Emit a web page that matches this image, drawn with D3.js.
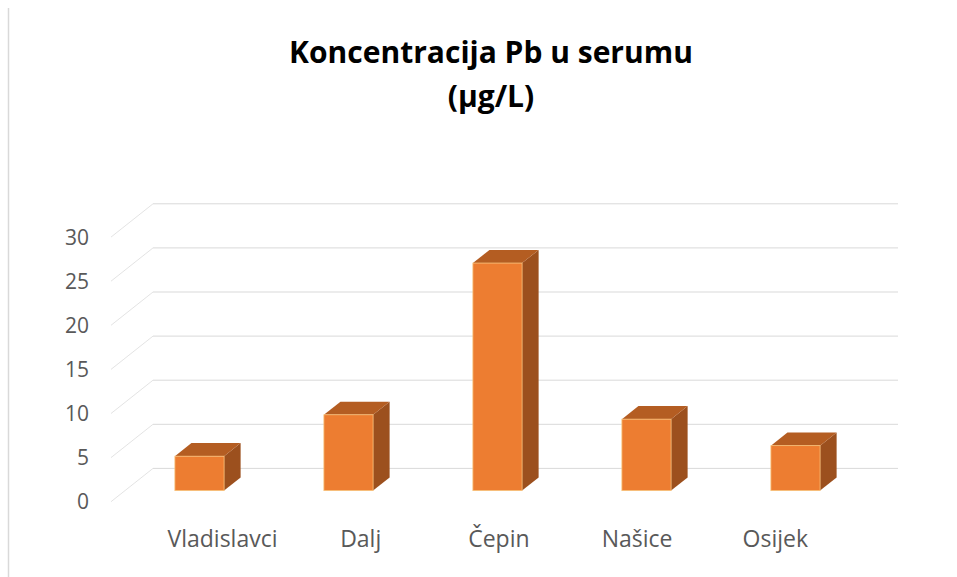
<!DOCTYPE html>
<html>
<head>
<meta charset="utf-8">
<script src="https://cdn.jsdelivr.net/npm/d3@7"></script>
<style>
  body { margin: 0; background: #fff; }
  svg { display: block; font-family: "Open Sans", sans-serif; }
</style>
</head>
<body>
<div id="chart"></div>
<script>
// chart data
const categories = ["Vladislavci", "Dalj", "Čepin", "Našice", "Osijek"];
const values = [3.9, 8.6, 25.8, 8.1, 5.1];
const yTicks = [0, 5, 10, 15, 20, 25, 30];
const titleLines = ["Koncentracija Pb u serumu", "(µg/L)"];

const width = 957, height = 577;

// oblique "3D" floor: front edge + a depth vector going up/right
const floor = { left: 111, right: 856, front: 501.7, top: 237.1 };
const depth = { dx: 42, dy: -33.3 };
const barDepth = [0.333, 0.727]; // front and back of the bars, as share of depth

const svg = d3.select("#chart").append("svg")
  .attr("width", width)
  .attr("height", height);

// frame line on the left edge
svg.append("line")
  .attr("x1", 8.5).attr("x2", 8.5)
  .attr("y1", 8).attr("y2", height)
  .attr("stroke", "#d9d9d9")
  .attr("stroke-width", 1.5);

// scales
const y = d3.scaleLinear()
  .domain([0, 30])
  .range([floor.front, floor.top]);

const x = d3.scaleBand()
  .domain(categories)
  .range([floor.left, floor.right])
  .paddingInner(0.67)
  .paddingOuter(0.335);

const labelX = d3.scalePoint()
  .domain(categories)
  .range([222.5, 775.3]);

// gridlines: short diagonal on the side wall, then long line on the back wall
const grid = svg.append("g").attr("class", "grid");
grid.selectAll("line.side")
  .data(yTicks)
  .enter()
  .append("line")
  .attr("class", "side")
  .attr("x1", floor.left)
  .attr("y1", d => y(d))
  .attr("x2", floor.left + depth.dx)
  .attr("y2", d => y(d) + depth.dy)
  .attr("stroke", "#dcdcdc")
  .attr("stroke-width", 0.8);

grid.selectAll("line.back")
  .data(yTicks)
  .enter()
  .append("line")
  .attr("class", "back")
  .attr("x1", floor.left + depth.dx)
  .attr("y1", d => y(d) + depth.dy)
  .attr("x2", floor.right + depth.dx)
  .attr("y2", d => y(d) + depth.dy)
  .attr("stroke", "#d9d9d9")
  .attr("stroke-width", 1);

// y tick labels
svg.append("g")
  .selectAll("text")
  .data(yTicks)
  .enter()
  .append("text")
  .attr("x", 89)
  .attr("y", d => y(d))
  .attr("dy", "0.36em")
  .attr("text-anchor", "end")
  .attr("fill", "#595959")
  .style("font-size", "21px")
  .text(d => d);

// bars as three faces: front, top, side
const f0 = { dx: depth.dx * barDepth[0], dy: depth.dy * barDepth[0] };
const f1 = { dx: depth.dx * barDepth[1], dy: depth.dy * barDepth[1] };
const bw = x.bandwidth();

const bars = svg.append("g")
  .selectAll("g.bar")
  .data(categories.map((c, i) => ({ name: c, value: values[i] })))
  .enter()
  .append("g")
  .attr("class", "bar");

const pts = arr => arr.map(p => p.join(",")).join(" ");

bars.append("polygon") // side
  .attr("points", d => {
    const xr = x(d.name) + bw;
    return pts([
      [xr + f0.dx, y(0) + f0.dy],
      [xr + f1.dx, y(0) + f1.dy],
      [xr + f1.dx, y(d.value) + f1.dy],
      [xr + f0.dx, y(d.value) + f0.dy]
    ]);
  })
  .attr("fill", "#9c501e");

bars.append("polygon") // top
  .attr("points", d => {
    const xl = x(d.name), yt = y(d.value);
    return pts([
      [xl + f0.dx, yt + f0.dy],
      [xl + bw + f0.dx, yt + f0.dy],
      [xl + bw + f1.dx, yt + f1.dy],
      [xl + f1.dx, yt + f1.dy]
    ]);
  })
  .attr("fill", "#b45d22");

bars.append("rect") // front
  .attr("x", d => x(d.name) + f0.dx)
  .attr("y", d => y(d.value) + f0.dy)
  .attr("width", bw)
  .attr("height", d => y(0) - y(d.value))
  .attr("fill", "#ed7d31")
  .attr("stroke", "#f8c27a")
  .attr("stroke-width", 0.8);

// category labels
svg.append("g")
  .selectAll("text")
  .data(categories)
  .enter()
  .append("text")
  .attr("x", d => labelX(d))
  .attr("y", 547)
  .attr("text-anchor", "middle")
  .attr("fill", "#595959")
  .style("font-size", "23px")
  .text(d => d);

// title
svg.append("g")
  .selectAll("text")
  .data(titleLines)
  .enter()
  .append("text")
  .attr("x", 491)
  .attr("y", (d, i) => 63 + i * 44)
  .attr("text-anchor", "middle")
  .attr("fill", "#000")
  .style("font-size", "30px")
  .style("font-weight", "bold")
  .text(d => d);
</script>
</body>
</html>
